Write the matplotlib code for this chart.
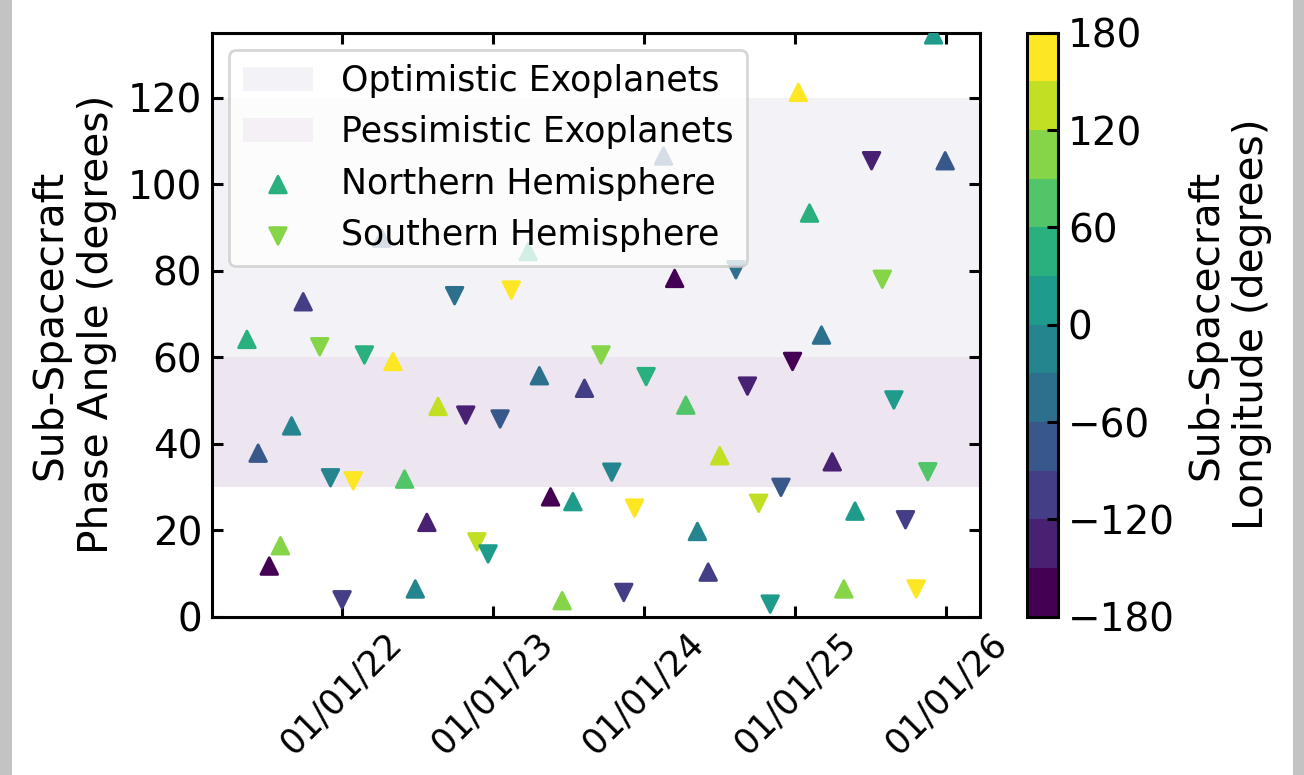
import matplotlib
matplotlib.use("Agg")
import matplotlib.pyplot as plt
import matplotlib.dates as mdates
import pandas as pd
from matplotlib.patches import Rectangle

# northern hemisphere passes (up triangles)
north_dates = ["2021-05-17", "2021-06-13", "2021-07-10", "2021-08-06", "2021-09-02", "2021-09-30",
               "2022-04-08", "2022-05-05", "2022-06-02", "2022-06-28", "2022-07-26", "2022-08-22",
               "2023-03-28", "2023-04-24", "2023-05-21", "2023-06-18", "2023-07-14", "2023-08-11",
               "2024-02-18", "2024-03-16", "2024-04-12", "2024-05-10", "2024-06-05", "2024-07-03",
               "2025-01-09", "2025-02-05", "2025-03-06", "2025-04-01", "2025-04-29", "2025-05-26",
               "2025-12-02", "2025-12-30"]
north_phase = [64.1, 37.8, 11.7, 16.4, 44.1, 72.8,
               87.5, 59.0, 31.8, 6.4, 21.8, 48.6,
               84.4, 55.7, 27.7, 3.7, 26.6, 52.8,
               106.5, 78.2, 48.9, 19.7, 10.3, 37.2,
               121.2, 93.3, 65.1, 35.8, 6.4, 24.4,
               134.5, 105.4]
north_lon = [45, -75, -165, 105, -15, -105,
             -75, 165, 75, -15, -135, 135,
             45, -45, -165, 105, 15, -105,
             -75, -165, 75, -15, -105, 135,
             165, 45, -45, -135, 105, 15,
             15, -75]

# southern hemisphere passes (down triangles)
south_dates = ["2021-11-09", "2021-12-05", "2022-01-02", "2022-01-29", "2022-02-25",
               "2022-10-01", "2022-10-28", "2022-11-24", "2022-12-21", "2023-01-19", "2023-02-15",
               "2023-09-20", "2023-10-16", "2023-11-14", "2023-12-10", "2024-01-07",
               "2024-08-11", "2024-09-08", "2024-10-05", "2024-11-02", "2024-11-28", "2024-12-26",
               "2025-07-05", "2025-07-31", "2025-08-28", "2025-09-25", "2025-10-21", "2025-11-18"]
south_phase = [62.4, 32.1, 3.9, 31.4, 60.5,
               74.2, 46.6, 17.3, 14.5, 45.7, 75.5,
               60.5, 33.4, 5.6, 25.1, 55.5,
               80.2, 53.3, 26.2, 2.9, 29.9, 59.0,
               105.4, 78.0, 50.1, 22.4, 6.4, 33.5]
south_lon = [105, -15, -105, 165, 45,
             -45, -135, 135, 15, -75, 165,
             105, -15, -105, 165, 45,
             -45, -135, 135, 15, -75, -165,
             -135, 105, 15, -105, 165, 75]

plt.rcParams['font.size'] = 14
plt.rcParams['axes.linewidth'] = 1.1

fig = plt.figure(figsize=(6.52, 3.875), dpi=200)
fig.patch.set_facecolor('#c3c3c3')
fig.add_artist(Rectangle((12/1304, 0), 1281/1304, 1, transform=fig.transFigure,
                         facecolor='white', edgecolor='none', zorder=-1))

ax = fig.add_axes([0.1626, 0.2043, 0.5890, 0.7535])
cax = fig.add_axes([0.7877, 0.2043, 0.0238, 0.7535])

cmap = matplotlib.colormaps['viridis'].resampled(12)

ax.axhspan(30, 120, color='midnightblue', alpha=0.05, lw=0, label='Optimistic Exoplanets')
ax.axhspan(30, 60, color='purple', alpha=0.05, lw=0, label='Pessimistic Exoplanets')

sc = ax.scatter(pd.to_datetime(north_dates), north_phase, c=north_lon, cmap=cmap, vmin=-180, vmax=180,
                marker='^', s=36, label='Northern Hemisphere', zorder=3)
ax.scatter(pd.to_datetime(south_dates), south_phase, c=south_lon, cmap=cmap, vmin=-180, vmax=180,
           marker='v', s=36, label='Southern Hemisphere', zorder=3)

ax.set_ylim(0, 135)
ax.set_yticks(range(0, 121, 20))
ax.xaxis.set_major_locator(mdates.YearLocator())
ax.xaxis.set_major_formatter(mdates.DateFormatter('%m/%d/%y'))
plt.setp(ax.get_xticklabels(), rotation=45, fontsize=12.5)
ax.tick_params(direction='in', top=True, right=True, length=4, width=1.1)
ax.set_ylabel('Sub-Spacecraft\nPhase Angle (degrees)', fontsize=14.7)

leg = ax.legend(loc='upper left', fontsize=12.5)
leg.set_zorder(5)

cb = fig.colorbar(sc, cax=cax, ticks=range(-180, 181, 60))
cb.set_label('Sub-Spacecraft\nLongitude (degrees)', fontsize=14.7)
cb.ax.tick_params(direction='in', length=4, width=1.1)
cb.outline.set_linewidth(1.1)

fig.savefig('out.png', dpi=200, facecolor=fig.get_facecolor())
